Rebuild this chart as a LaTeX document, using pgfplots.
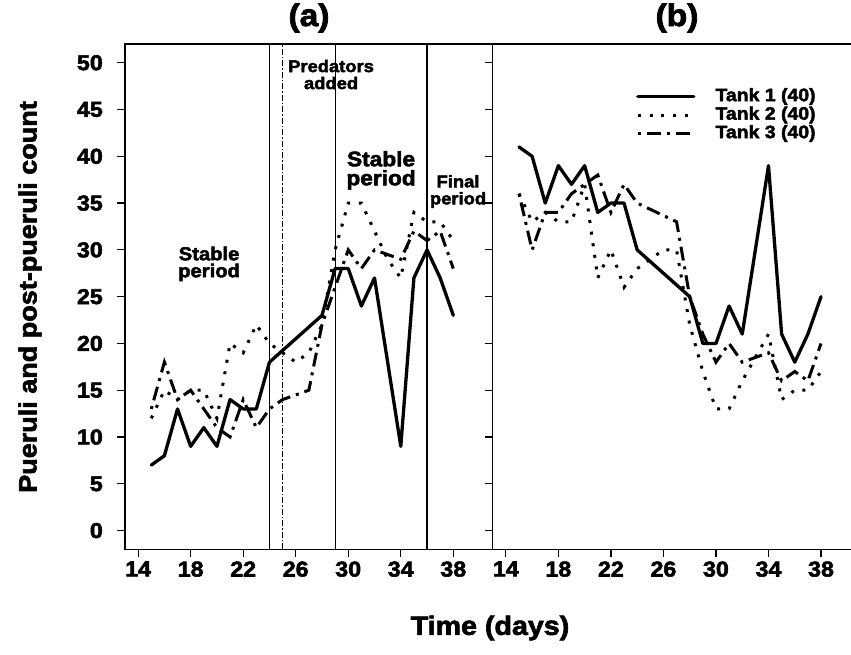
\documentclass[border=0pt]{standalone}
\usepackage{fontspec}
\setmainfont{Liberation Sans}[FakeStretch=1.08, BoldFeatures={FakeBold=2.5}]
\usepackage{pgfplots}
\pgfplotsset{compat=1.18}
\newcommand\fs[2]{\fontsize{#1}{#2}\selectfont\bfseries}
\pgfplotsset{
  base/.style={
    scale only axis, ymin=-2, ymax=52, xmin=13,
    height=505.3pt,
    ytick={0,5,...,50}, xtick={14,18,...,38},
    tick align=outside, major tick length=8pt,
    xtick pos=left, ytick pos=left,
    every tick/.style={black, line width=1.2pt},
    axis line style={line width=1.3pt},
    /pgf/number format/assume math mode=true,
    ticklabel style={font=\fs{21.5}{21.5}},
    yticklabel style={inner sep=0pt, xshift=-14pt},
    xticklabel style={inner sep=0pt, yshift=-4pt},
    clip=false,
  },
  t1/.style={line width=3.3pt, black, line join=round, line cap=round},
  t2/.style={line width=3pt, black, line cap=butt, dash pattern=on 3pt off 8.7pt},
  t3/.style={line width=3pt, black, line cap=butt, dash pattern=on 3pt off 6pt on 14pt off 6pt},
}
\begin{document}
\begin{tikzpicture}
\path[use as bounding box] (0,0) rectangle (851pt,654pt);
% ---------- panel (a)
\begin{axis}[base, at={(125pt,104.7pt)}, anchor=south west,
  width=367.7pt, xmax=41]
\addplot[t1] coordinates {(15,7)(16,8)(17,13)(18,9)(19,11)(20,9)(21,14)(22,13)(23,13)(24,18)(28,23)(29,28)(30,28)(31,24)(32,27)(34,9)(35,27)(36,30)(37,27)(38,23)};
\addplot[t2] coordinates {(15,12)(16,15)(17,14)(18,15)(19,15)(20,12)(21,20)(22,19)(23,22)(24,20)(25,19)(26,18)(27,19)(28,22)(29,30)(30,35)(31,35)(32,32)(33,29)(34,27)(35,34)(36,33)(37,33)(38,31)};
\addplot[t3] coordinates {(15,13)(16,18)(17,14)(18,15)(19,13)(20,11)(21,10)(22,14)(23,11)(24,13)(25,14)(26,14.5)(27,15)(28,22)(29,26)(30,30)(31,28)(32,30)(33,29.5)(34,29)(35,32)(36,31)(37,32)(38,28)};
\addplot[black, line width=1.1pt] coordinates {(24,-2)(24,52)};
\addplot[black, line width=1pt, dash pattern=on 6pt off 2pt on 1.5pt off 2pt] coordinates {(25,-2)(25,52)};
\addplot[black, line width=1.1pt] coordinates {(29,-2)(29,52)};
\addplot[black, line width=1.1pt] coordinates {(36,-2)(36,52)};
\node[align=center, font=\fs{18.7}{17}] at (axis cs:19.4,28.5) {Stable\\period};
\node[align=center, font=\fs{21}{19}] at (axis cs:32.5,38.5) {Stable\\period};
\node[align=center, font=\fs{17}{17}] at (axis cs:38.36,36.24) {Final\\period};
\node[align=center, font=\fs{17}{17}] at (axis cs:28.69,48.74) {Predators\\added};
\end{axis}
% ---------- panel (b)
\begin{axis}[base, at={(492.7pt,104.7pt)}, anchor=south west,
  width=360.5pt, xmax=40.45, yticklabels={},
  legend style={draw=none, fill=none, at={(rel axis cs:0.3975,0.913)}, anchor=north west,
    inner sep=0pt, row sep=1.5pt, font=\fs{18}{18},
    nodes={inner sep=0pt, text height=13pt, text depth=4pt}},
  legend cell align=left,
  legend image code/.code={\draw[#1] (0pt,0pt) -- (56pt,0pt);},
  legend columns=1]
\addplot[t1] coordinates {(15,41)(16,40)(17,35)(18,39)(19,37)(20,39)(21,34)(22,35)(23,35)(24,30)(28,25)(29,20)(30,20)(31,24)(32,21)(34,39)(35,21)(36,18)(37,21)(38,25)};
\addplot[t2] coordinates {(15,36)(16,33)(17,34)(18,33)(19,33)(20,37)(21,27)(22,30)(23,26)(24,28)(26,30)(27,30)(28,22)(29,17)(30,13)(31,13)(32,16)(34,21)(35,14)(36,15)(37,15)(38,17)};
\addplot[t3] coordinates {(15,36)(16,30)(17,34)(18,34)(19,36)(20,37)(21,38)(22,34)(23,37)(24,35)(27,33)(28,25)(29,21)(30,18)(31,20)(32,18)(33,18.5)(34,19)(35,16)(36,17)(37,16)(38,20)};
\legend{\hspace{20pt}Tank 1 (40),\hspace{20pt}Tank 2 (40),\hspace{20pt}Tank 3 (40)}
\end{axis}
% ---------- titles and axis labels
\node[font=\fs{31}{31}] at (309pt,636pt) {(a)};
\node[font=\fs{31}{31}] at (677pt,636pt) {(b)};
\node[font=\fs{25}{25}, rotate=90] at (30pt,357pt) {Pueruli and post-pueruli count};
\node[font=\fs{26.5}{26.5}] at (490pt,26pt) {Time (days)};
\end{tikzpicture}
\end{document}
